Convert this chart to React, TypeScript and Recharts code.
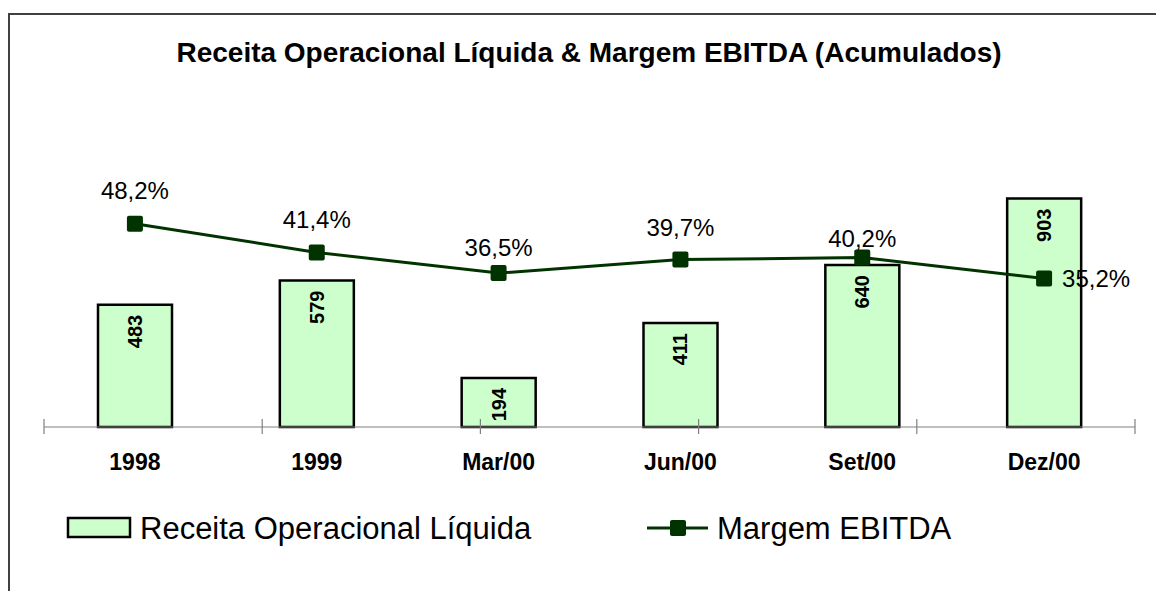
import { ComposedChart, Bar, Line, XAxis, YAxis, LabelList } from "recharts";

const periods = ["1998", "1999", "Mar/00", "Jun/00", "Set/00", "Dez/00"];
const receita = [483, 579, 194, 411, 640, 903];
const margem = [48.2, 41.4, 36.5, 39.7, 40.2, 35.2];
const boundaryTicks = [0, 1, 2, 3, 4, 5, 6];

// how far above the marker each percentage label sits (last one goes to the right)
const labelLift = [33, 33, 26, 32, 19, 0];

const FONT = '"Liberation Sans", Arial, Helvetica, sans-serif';
const BAR_FILL = "#ccffcc";
const LINE_COLOR = "#003300";

const data = periods.map((p, i) => ({ period: p, receita: receita[i], margem: margem[i] }));

const fmtPct = (v: number) => v.toFixed(1).replace(".", ",") + "%";

function BarValue(props: any) {
  const { x, y, width, value } = props;
  const cx = x + width / 2;
  const ty = y + 10;
  return (
    <text
      x={cx}
      y={ty}
      transform={`rotate(-90, ${cx}, ${ty})`}
      textAnchor="end"
      dominantBaseline="central"
      fontFamily={FONT}
      fontSize={20}
      fontWeight="bold"
      fill="#000"
    >
      {value}
    </text>
  );
}

function PctValue(props: any) {
  const { x, y, value, index } = props;
  const last = index === margem.length - 1;
  return (
    <text
      x={last ? x + 18 : x}
      y={last ? y : y - labelLift[index]}
      textAnchor={last ? "start" : "middle"}
      dominantBaseline="central"
      fontFamily={FONT}
      fontSize={24}
      fill="#000"
    >
      {fmtPct(value)}
    </text>
  );
}

function SquareDot(props: any) {
  const { cx, cy } = props;
  return <rect x={cx - 8} y={cy - 8} width={16} height={16} rx={2} fill={LINE_COLOR} />;
}

function BoundaryTick(props: any) {
  const { x, y } = props;
  return <line x1={x} x2={x} y1={y - 8} y2={y + 7} stroke="#808080" strokeWidth={1.2} />;
}

export default function App() {
  return (
    <div
      style={{
        position: "absolute",
        left: 0,
        top: 0,
        width: 1156,
        height: 591,
        overflow: "hidden",
        background: "#fff",
        fontFamily: FONT,
      }}
    >
      <div
        style={{
          position: "absolute",
          left: 8,
          top: 13,
          width: 1300,
          height: 800,
          borderLeft: "2px solid #404040",
          borderTop: "2px solid #404040",
        }}
      />
      <ComposedChart
        width={1156}
        height={591}
        data={data}
        margin={{ top: 174, right: 21, bottom: 0, left: 44 }}
        style={{ position: "absolute", left: 0, top: 0 }}
      >
        <XAxis
          xAxisId={0}
          type="number"
          domain={[0, 6]}
          ticks={boundaryTicks}
          allowDataOverflow
          height={1}
          axisLine={{ stroke: "#808080", strokeWidth: 1.2 }}
          tickLine={false}
          tickSize={0}
          tickMargin={0}
          tick={<BoundaryTick />}
          interval={0}
        />
        <XAxis
          xAxisId={1}
          dataKey="period"
          height={163}
          axisLine={false}
          tickLine={false}
          tickSize={0}
          tickMargin={26}
          interval={0}
          tick={{ fontFamily: FONT, fontSize: 23, fontWeight: "bold", fill: "#000" }}
        />
        <YAxis yAxisId="rec" domain={[0, 1000]} hide />
        <YAxis yAxisId="pct" domain={[0, 60]} hide />
        <Bar
          xAxisId={1}
          yAxisId="rec"
          dataKey="receita"
          barSize={74}
          fill={BAR_FILL}
          stroke="#000"
          strokeWidth={2.5}
          isAnimationActive={false}
        >
          <LabelList dataKey="receita" content={<BarValue />} />
        </Bar>
        <Line
          xAxisId={1}
          yAxisId="pct"
          dataKey="margem"
          stroke={LINE_COLOR}
          strokeWidth={3}
          dot={<SquareDot />}
          activeDot={false}
          isAnimationActive={false}
        >
          <LabelList dataKey="margem" content={<PctValue />} />
        </Line>
      </ComposedChart>
      <svg
        width={1156}
        height={591}
        style={{ position: "absolute", left: 0, top: 0, pointerEvents: "none" }}
      >
        <text
          x={589}
          y={52}
          textAnchor="middle"
          dominantBaseline="central"
          fontFamily={FONT}
          fontSize={28}
          fontWeight="bold"
          fill="#000"
        >
          Receita Operacional Líquida &amp; Margem EBITDA (Acumulados)
        </text>
        <rect x={68} y={518} width={62} height={19} fill={BAR_FILL} stroke="#000" strokeWidth={2.5} />
        <text x={140} y={528} dominantBaseline="central" fontFamily={FONT} fontSize={31} fill="#000">
          Receita Operacional Líquida
        </text>
        <line x1={647} x2={708} y1={528} y2={528} stroke={LINE_COLOR} strokeWidth={3} />
        <rect x={670} y={520} width={16} height={16} rx={2} fill={LINE_COLOR} />
        <text x={717} y={528} dominantBaseline="central" fontFamily={FONT} fontSize={31} fill="#000">
          Margem EBITDA
        </text>
      </svg>
    </div>
  );
}
